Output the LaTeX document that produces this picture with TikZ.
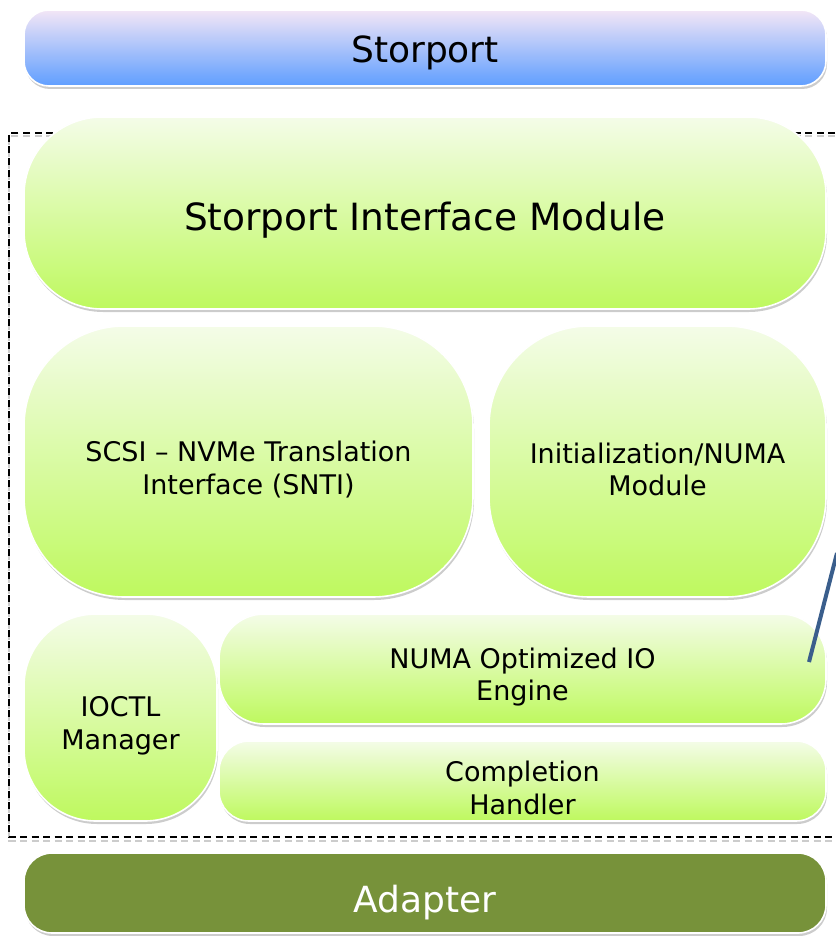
\documentclass[tikz,border=0pt]{standalone}
\usepackage{fontspec}
\setmainfont{DejaVu Sans}
\usetikzlibrary{shadows}

\definecolor{greentop}{HTML}{F4FCE8}
\definecolor{greenbot}{HTML}{BEF95E}
\definecolor{bluetop}{HTML}{F3E6F6}
\definecolor{bluemid}{HTML}{88C2FF}
\definecolor{bluebot}{HTML}{5F9EFF}
\definecolor{olive}{HTML}{77923A}
\definecolor{linkblue}{HTML}{3A5E8C}

\tikzset{
  layer/.style={draw=white, line width=1.6pt, inner sep=0pt,
    drop shadow={shadow xshift=1pt, shadow yshift=-3pt, fill=black, opacity=0.2}},
  greenbox/.style={layer, top color=greentop, bottom color=greenbot},
  bluebox/.style={layer, top color=bluetop, middle color=bluemid, bottom color=bluebot},
  olivebox/.style={layer, fill=olive},
  bigtext/.style={font=\fontsize{36}{40}\selectfont, align=center},
  midtext/.style={font=\fontsize{37.5}{40}\selectfont, align=center},
  smalltext/.style={font=\fontsize{27}{32.5}\selectfont, align=center},
  frame/.style={dashed, dash pattern=on 7pt off 4.5pt, line width=2pt},
}

\begin{document}
\begin{tikzpicture}[x=1pt, y=-1pt]
  \useasboundingbox (0,0) rectangle (835,936);

  % storage stack boundary (open on the right)
  \coordinate (fr1) at (835,133);
  \coordinate (fr2) at (9,133);
  \coordinate (fr3) at (9,837);
  \coordinate (fr4) at (835,837);
  \draw[frame, black!20, transform canvas={yshift=-3.5pt}] (fr1) -- (fr2) -- (fr3) -- (fr4);
  \draw[frame] (fr1) -- (fr2) -- (fr3) -- (fr4);

  % top: Storport
  \node[bluebox, rounded corners=25pt, minimum width=802pt, minimum height=76pt] (stor) at (425,48) {};
  \node[bigtext] (stor-t) at ([yshift=-5pt]stor.center) {Storport};

  % Storport interface module
  \node[greenbox, rounded corners=78pt, minimum width=802pt, minimum height=192pt] (sim) at (425,213) {};
  \node[midtext] (sim-t) at ([yshift=-7pt]sim.center) {Storport Interface Module};

  % translation and initialisation modules
  \node[greenbox, rounded corners=100pt, minimum width=449pt, minimum height=271pt] (snti) at (248.5,461.5) {};
  \node[smalltext] (snti-t) at ([yshift=-8pt]snti.center) {SCSI – NVMe Translation\\Interface (SNTI)};

  \node[greenbox, rounded corners=100pt, minimum width=337pt, minimum height=271pt] (init) at (657.5,461.5) {};
  \node[smalltext] (init-t) at ([yshift=-8pt]init.center) {Initialization/NUMA\\Module};

  % IO path
  \node[greenbox, rounded corners=72pt, minimum width=193pt, minimum height=207pt] (ioctl) at (120.5,717.5) {};
  \node[smalltext] (ioctl-t) at ([yshift=-8.5pt]ioctl.center) {IOCTL\\Manager};

  \node[greenbox, rounded corners=45pt, minimum width=607pt, minimum height=110pt] (numa) at (522.5,669) {};
  \node[smalltext] (numa-t) at ([yshift=-8pt]numa.center) {NUMA Optimized IO\\Engine};

  \node[greenbox, rounded corners=30pt, minimum width=607pt, minimum height=80pt] (comp) at (522.5,781) {};
  \node[smalltext] (comp-t) at ([yshift=-7pt]comp.center) {Completion\\Handler};

  % bottom: Adapter
  \node[olivebox, rounded corners=28pt, minimum width=802pt, minimum height=80pt] (adap) at (425,893) {};
  \node[bigtext, white] (adap-t) at ([yshift=-10pt]adap.center) {Adapter};

  % pointer line
  \coordinate (pt1) at (837,553);
  \coordinate (pt2) at (809,662);
  \draw[linkblue, line width=4pt] (pt1) -- (pt2);
\end{tikzpicture}
\end{document}
